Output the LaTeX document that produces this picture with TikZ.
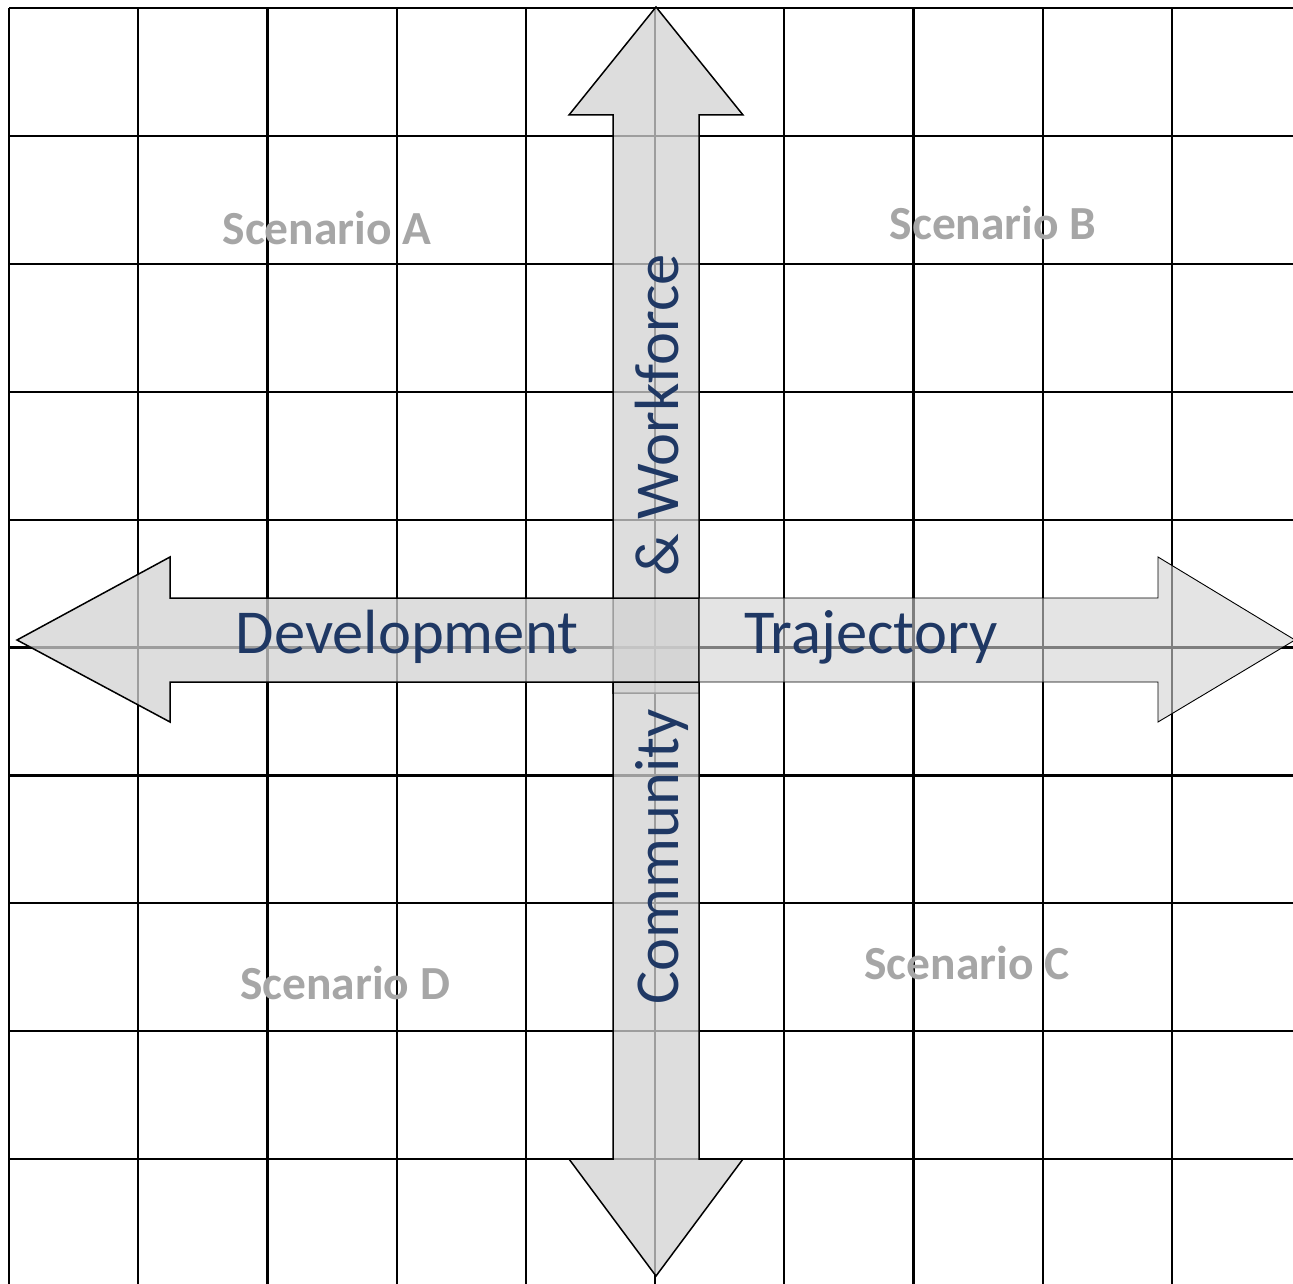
\documentclass[tikz,border=0pt]{standalone}
\usepackage{fontspec}
\setmainfont{Carlito}
\definecolor{axisblue}{HTML}{1F3864}
\definecolor{scengray}{HTML}{A6A6A6}
\definecolor{arrowfill}{HTML}{D2D2D2}
\begin{document}
\begin{tikzpicture}[x=1pt,y=-1pt,
  gridline/.style={line width=2.2pt,black},
  bigarrow/.style={draw=black,line width=1.5pt,fill=arrowfill,fill opacity=0.75,line join=miter},
  lightarrow/.style={draw=black,line width=0.9pt,fill=arrowfill,fill opacity=0.6,line join=miter},
  axislabel/.style={text=axisblue,font=\fontsize{62.5}{70}\selectfont,anchor=base,inner sep=0pt},
  scenlabel/.style={text=scengray,font=\fontsize{47.5}{52}\selectfont\bfseries,anchor=base,inner sep=0pt}]
\useasboundingbox (0,0) rectangle (1293,1284);
% grid
\foreach \i in {0,...,9}{
  \draw[gridline] ({9+129.2*\i},8) -- ({9+129.2*\i},1284);
  \draw[gridline] (9,{8+127.9*\i}) -- (1293,{8+127.9*\i});
}
% vertical arrows
\draw[bigarrow] (656,7) -- (743,115) -- (699,115) -- (699,693) -- (613,693) -- (613,115) -- (569,115) -- cycle;
\draw[bigarrow] (656,1276) -- (743,1159) -- (699,1159) -- (699,682) -- (613,682) -- (613,1159) -- (569,1159) -- cycle;
% horizontal arrows
\draw[bigarrow] (17,640) -- (170,557) -- (170,598) -- (699,598) -- (699,682) -- (170,682) -- (170,722) -- cycle;
\draw[lightarrow] (1295,640) -- (1158,557) -- (1158,598) -- (699,598) -- (699,682) -- (1158,682) -- (1158,722) -- cycle;
% axis labels
\node[axislabel] (dev) at (407,653) {Development};
\node[axislabel] (traj) at (871,653) {Trajectory};
\node[axislabel,rotate=90] (work) at (678,415) {\& Workforce};
\node[axislabel,rotate=90] (comm) at (678,857) {Community};
% scenario labels
\node[scenlabel] (sa) at (327,244) {Scenario A};
\node[scenlabel] (sb) at (993,240) {Scenario B};
\node[scenlabel] (sc) at (967,979) {Scenario C};
\node[scenlabel] (sd) at (345,999) {Scenario D};
\end{tikzpicture}
\end{document}
